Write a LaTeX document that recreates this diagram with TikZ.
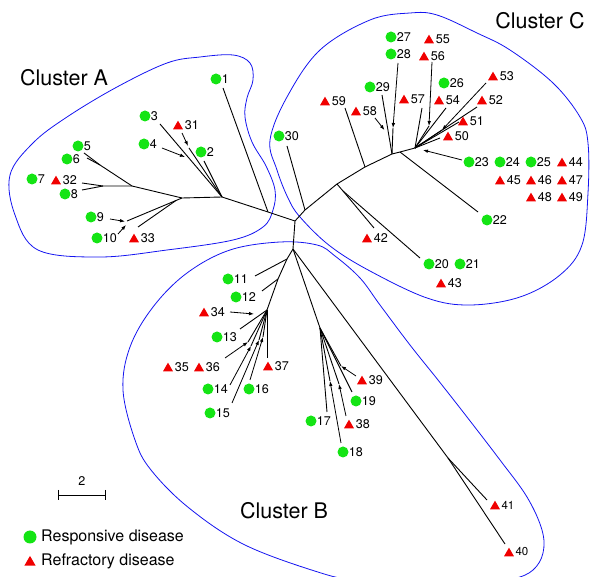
\documentclass[tikz,border=0pt]{standalone}
\usepackage{fontspec}
\setmainfont{TeX Gyre Heros}
\usetikzlibrary{shapes.geometric,arrows.meta}
\definecolor{lgreen}{RGB}{20,228,20}
\definecolor{lred}{RGB}{240,0,0}
\definecolor{hullblue}{RGB}{20,20,240}
\newcommand\gl[4]{\node[resp] (#1) at (#2,#3) {}; \node[lab] (#1t) at (#2+5.6,#3) {#4};}
\newcommand\rl[4]{\node[refr] (#1) at (#2,#3) {}; \node[lab] (#1t) at (#2+6.6,#3) {#4};}
\newcommand\rs[4]{\node[refr] (#1) at (#2,#3) {}; \node[lab,font=\fontsize{11.5}{13}\selectfont] (#1t) at (#2+6.3,#3) {#4};}
\begin{document}
\begin{tikzpicture}[x=1pt,y=-1pt,
  resp/.style={circle,fill=lgreen,inner sep=0,minimum size=11pt},
  refr/.style={regular polygon,regular polygon sides=3,fill=lred,inner sep=0,minimum size=11.5pt,yshift=-1.4pt},
  lab/.style={anchor=west,inner sep=0,font=\fontsize{12.6}{14}\selectfont},
  clab/.style={inner sep=0,font=\fontsize{21.5}{24}\selectfont},
  leg/.style={anchor=west,inner sep=0,font=\fontsize{16}{18}\selectfont},
  br/.style={line width=0.9pt,line join=round},
  ar/.style={line width=0.8pt,-{Latex[length=5pt,width=3.6pt]}},
  hull/.style={hullblue,line width=0.8pt}]
\useasboundingbox (0,0) rectangle (590,577);
\begin{scope}
\clip (0,0) rectangle (590,577);
% cluster outlines
\draw[hull] plot[smooth cycle,tension=0.6] coordinates {(10,175) (15,215) (38,250) (100,257) (167,250) (233,240) (263,227) (273,210) (275,190) (266,166) (252,142) (245,117) (247,98) (253,80) (250,63) (233,55) (200,57) (167,63) (117,87) (67,117) (33,143)};
\draw[hull] plot[smooth cycle,tension=0.6] coordinates {(270,140) (277,170) (288,198) (300,217) (330,246) (370,271) (427,298) (470,305) (520,297) (560,275) (582,245) (588,193) (588,143) (580,117) (553,83) (510,50) (477,33) (437,15) (410,13) (370,20) (320,50) (287,97)};
\draw[hull] plot[smooth cycle,tension=0.6] coordinates {(123,390) (130,347) (153,307) (187,273) (230,250) (280,242) (317,245) (335,256) (360,278) (380,305) (410,345) (438,380) (467,417) (500,460) (527,497) (542,530) (543,553) (533,570) (513,579) (470,587) (420,587) (360,581) (321,573) (245,545) (189,508) (151,470) (135,440)};
\end{scope}
% cluster titles
\node[clab] (ca) at (64,78) {Cluster A};
\node[clab] (cc) at (540,21) {Cluster C};
\node[clab] (cb) at (284,511) {Cluster B};
% internal coordinates
\coordinate (r0) at (295,221);
\coordinate (a1) at (268,212);
\coordinate (a2) at (222,197);
\coordinate (a3) at (182,198);
\coordinate (a4) at (132,186);
\coordinate (a5) at (103,186);
\coordinate (a6) at (100,165);
\coordinate (a7) at (176,200.5);
\coordinate (a8) at (127,221);
\coordinate (t1) at (223,88);
\coordinate (t2) at (204,161);
\coordinate (t3) at (160,124);
\coordinate (t31) at (189,148);
\coordinate (t5) at (84,153);
\coordinate (t6) at (87,158);
\coordinate (t32) at (82,183);
\coordinate (t8) at (82,190);
\coordinate (t33) at (138,227);
\coordinate (c1) at (305,210);
\coordinate (c2) at (337,184);
\coordinate (c3) at (343,191);
\coordinate (c4) at (365,167);
\coordinate (c5) at (392,154);
\coordinate (c7) at (400,152);
\coordinate (c8) at (415,148);
\coordinate (t30) at (287,146);
\coordinate (t42) at (374,228);
\coordinate (t20) at (420,258);
\coordinate (t59) at (345,108);
\coordinate (t29) at (382,95);
\coordinate (t28) at (393,128);
\coordinate (t22) at (478,212);
\coordinate (t57) at (422,108);
\coordinate (t54) at (446,108);
\coordinate (t52) at (477,107);
\coordinate (t51) at (459,122);
\coordinate (t50) at (440,138);
\coordinate (t56) at (429,126);
\coordinate (t53) at (442,130);
\coordinate (b0) at (293,249);
\coordinate (b1) at (287,259);
\coordinate (b2) at (278,279);
\coordinate (b3) at (267,310);
\coordinate (b4) at (320,328);
\coordinate (b5) at (448,458);
\coordinate (t11) at (255,276);
\coordinate (t12) at (262,291);
\coordinate (t13) at (240,329);
\coordinate (t37) at (267,358);
\coordinate (f1) at (248,342);
\coordinate (f2) at (251,346);
\coordinate (f3) at (259,340);
\coordinate (f4) at (263,337);
\coordinate (t17) at (327,412);
\coordinate (t19) at (352,392);
\coordinate (s18) at (330,381);
\coordinate (s38) at (339,384);
\coordinate (s39) at (341,366);
\coordinate (t41) at (487,500);
\coordinate (t40) at (505,544);
% arrow tails / heads
\coordinate (h31a) at (182,133); \coordinate (h31b) at (188,146);
\coordinate (h4a) at (162,148); \coordinate (h4b) at (185,157);
\coordinate (h9a) at (110,219); \coordinate (h9b) at (125,221.5);
\coordinate (h10a) at (118,234); \coordinate (h10b) at (126,225);
\coordinate (h58a) at (375,118); \coordinate (h58b) at (384.5,130);
\coordinate (h28a) at (398,63);
\coordinate (h56a) at (432,62);
\coordinate (h53a) at (486,83);
\coordinate (h23a) at (462,160); \coordinate (h23b) at (423,150);
\coordinate (h34a) at (230,312); \coordinate (h34b) at (254,314);
\coordinate (h36a) at (225,358);
\coordinate (h14a) at (230,385);
\coordinate (h15a) at (232,403);
\coordinate (h16a) at (250,380);
\coordinate (h18a) at (341,443);
\coordinate (h38a) at (346,416);
\coordinate (h39a) at (356,376);
% tree branches
\draw[br] (r0) -- (a1) -- (a2) -- (a3) -- (a4) -- (a5);
\draw[br] (a1) -- (t1);
\draw[br] (a2) -- (t3);
\draw[br] (a2) -- (t31);
\draw[br] (a2) -- (t2);
\draw[br] (a4) -- (a6) -- (t5);
\draw[br] (a6) -- (t6);
\draw[br] (a5) -- (t32);
\draw[br] (a5) -- (t8);
\draw[br] (a3) -- (a7) -- (a8);
\draw[br] (a7) -- (t33);
\draw[br] (r0) -- (c1) -- (c2) -- (c4) -- (c5) -- (c7) -- (c8);
\draw[br] (c1) -- (t30);
\draw[br] (c2) -- (c3) -- (t42);
\draw[br] (c3) -- (t20);
\draw[br] (c4) -- (t59);
\draw[br] (c5) -- (t29);
\draw[br] (c5) -- (t28);
\draw[br] (c7) -- (t22);
\foreach \t in {t57,t54,t52,t51,t50,t56,t53} \draw[br] (c8) -- (\t);
\draw[br] (r0) -- (b0) -- (b1) -- (b2) -- (b3);
\draw[br] (b1) -- (t11);
\draw[br] (b2) -- (t12);
\foreach \t in {t13,t37,f1,f2,f3,f4} \draw[br] (b3) -- (\t);
\draw[br] (b0) -- (b4);
\foreach \t in {t17,t19,s18,s38,s39} \draw[br] (b4) -- (\t);
\draw[br] (b0) -- (b5) -- (t41);
\draw[br] (b5) -- (t40);
% arrows
\draw[ar] (h31a) -- (h31b);
\draw[ar] (h4a) -- (h4b);
\draw[ar] (h9a) -- (h9b);
\draw[ar] (h10a) -- (h10b);
\draw[ar] (h58a) -- (h58b);
\draw[ar] (h28a) -- (t28);
\draw[ar] (h56a) -- (t56);
\draw[ar] (h53a) -- (t53);
\draw[ar] (h23a) -- (h23b);
\draw[ar] (h34a) -- (h34b);
\draw[ar] (h36a) -- (f1);
\draw[ar] (h14a) -- (f2);
\draw[ar] (h15a) -- (f3);
\draw[ar] (h16a) -- (f4);
\draw[ar] (h18a) -- (s18);
\draw[ar] (h38a) -- (s38);
\draw[ar] (h39a) -- (s39);
% leaves: responsive
\gl{g1}{216}{79}{1}
\gl{g2}{201}{152}{2}
\gl{g3}{145}{116}{3}
\gl{g4}{144}{144}{4}
\gl{g5}{78}{146}{5}
\gl{g6}{67}{159}{6}
\gl{g7}{32}{179}{7}
\gl{g8}{65}{194}{8}
\gl{g9}{91}{217}{9}
\gl{g10}{97}{238}{10}
\gl{g11}{228}{279}{11}
\gl{g12}{236}{297}{12}
\gl{g13}{217}{337}{13}
\gl{g14}{208}{389}{14}
\gl{g15}{210}{413}{15}
\gl{g16}{249}{389}{16}
\gl{g17}{311}{421}{17}
\gl{g18}{343}{452}{18}
\gl{g19}{356}{401}{19}
\gl{g20}{429}{264}{20}
\gl{g21}{460}{264}{21}
\gl{g22}{487}{220}{22}
\gl{g23}{469}{162}{23}
\gl{g24}{500}{162}{24}
\gl{g25}{531}{162}{25}
\gl{g26}{444}{83}{26}
\gl{g27}{391}{37}{27}
\gl{g28}{391}{54}{28}
\gl{g29}{370}{87}{29}
\gl{g30}{279}{136}{30}
% leaves: refractory
\rl{r31}{178}{125}{31}
\rl{r32}{56}{180}{32}
\rl{r33}{134}{238}{33}
\rl{r34}{204}{312}{34}
\rl{r35}{168}{367}{35}
\rl{r36}{199}{367}{36}
\rl{r37}{268}{366}{37}
\rl{r38}{349}{424}{38}
\rl{r39}{362}{380}{39}
\rs{r40}{509}{552}{40}
\rs{r41}{495}{505}{41}
\rl{r42}{367}{238}{42}
\rl{r43}{441}{283}{43}
\rl{r44}{562}{162}{44}
\rl{r45}{500}{180}{45}
\rl{r46}{531}{180}{46}
\rl{r47}{562}{180}{47}
\rl{r48}{531}{197}{48}
\rl{r49}{562}{197}{49}
\rl{r50}{448}{136}{50}
\rl{r51}{463}{121}{51}
\rl{r52}{482}{100}{52}
\rl{r53}{493}{76}{53}
\rl{r54}{439}{100}{54}
\rl{r55}{429}{39}{55}
\rl{r56}{424}{56}{56}
\rl{r57}{404}{99}{57}
\rl{r58}{356}{111}{58}
\rl{r59}{325}{101}{59}
% scale bar
\coordinate (sb1) at (58,495);
\coordinate (sb2) at (105,495);
\draw[line width=0.8pt] (sb1) -- (sb2);
\draw[line width=0.8pt] ([yshift=5pt]sb1) -- ([yshift=-5pt]sb1);
\draw[line width=0.8pt] ([yshift=5pt]sb2) -- ([yshift=-5pt]sb2);
\node[inner sep=0,font=\fontsize{12.6}{14}\selectfont] (sbl) at (82,481) {2};
% legend
\node[resp,minimum size=13pt] (lg1) at (30,537) {};
\node[leg] (lg1t) at (41,537) {Responsive disease};
\node[refr,minimum size=13pt] (lg2) at (30,561) {};
\node[leg] (lg2t) at (41,561) {Refractory disease};
\end{tikzpicture}
\end{document}
